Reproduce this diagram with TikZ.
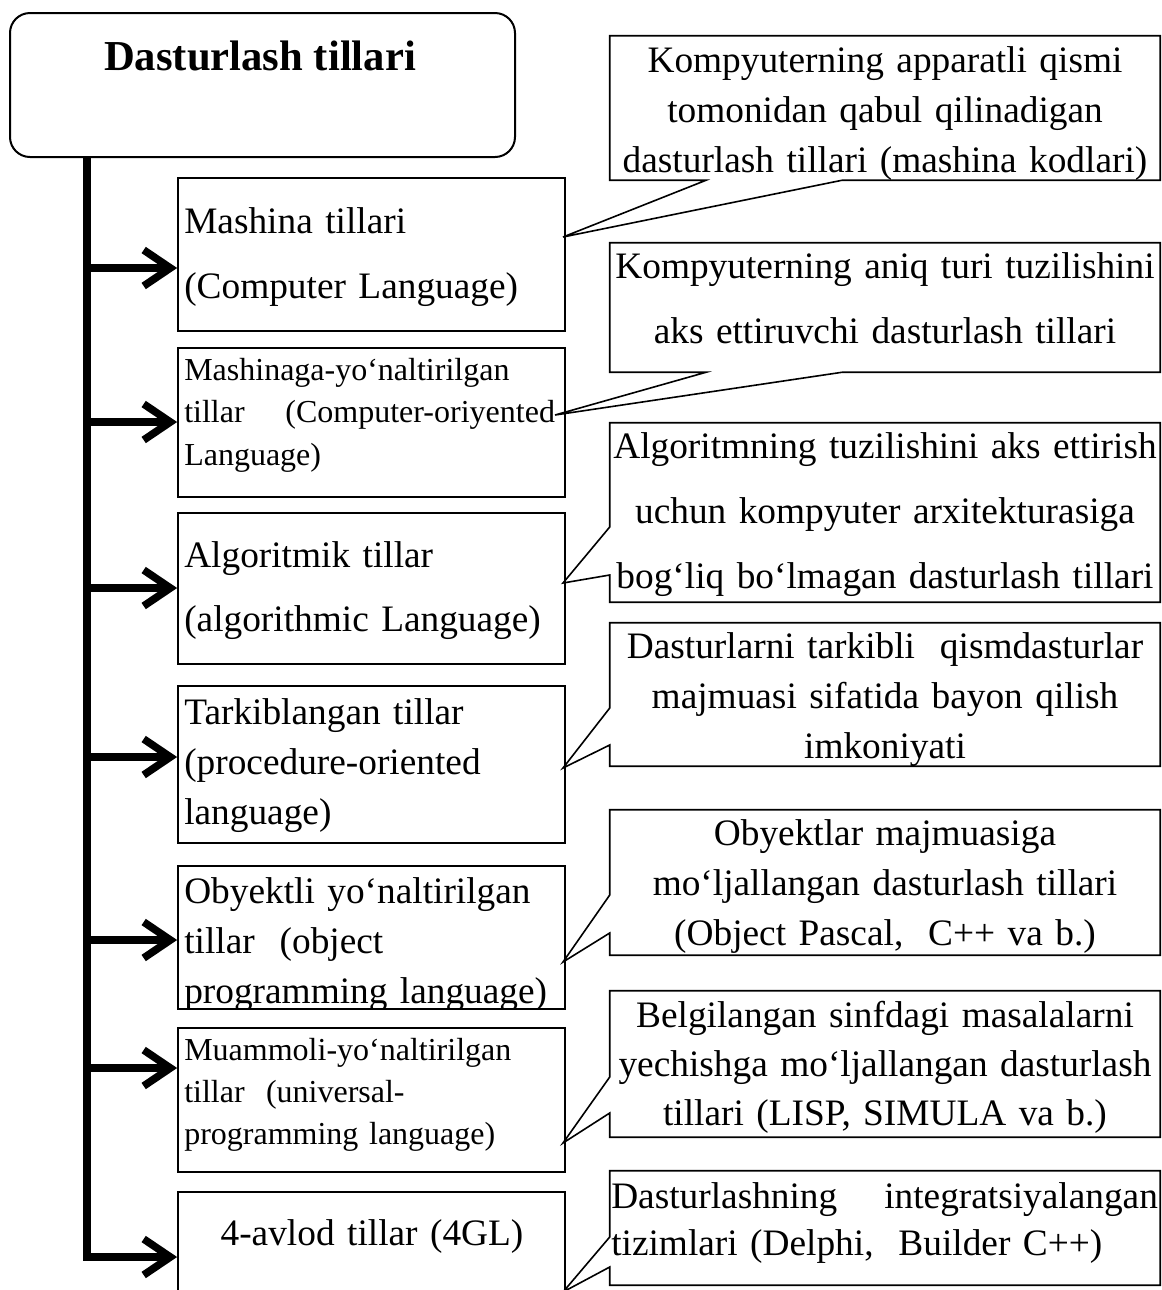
\documentclass[tikz,border=0pt]{standalone}
\usepackage{fontspec}
\setmainfont{Liberation Serif}
\usetikzlibrary{arrows.meta}

\begin{document}
\begin{tikzpicture}[x=0.75pt,y=-0.75pt,
  lbox/.style={draw,line width=1.3pt,minimum width=290.25pt,inner sep=0pt},
  cbox/.style={minimum width=412.5pt,inner sep=0pt},
  cline/.style={line width=1.2pt,line join=miter},
  ltext/.style={anchor=base west,inner sep=0pt,align=left,text width=285pt},
  ctext/.style={anchor=base,inner sep=0pt,align=center,text width=412.5pt},
  bigtext/.style={font=\fontsize{28}{#1}\selectfont},
  smalltext/.style={font=\fontsize{24}{#1}\selectfont},
  trunk/.style={line width=5.7pt},
  branch/.style={line width=5.7pt,-{Straight Barb[length=20pt,width=27pt]}}]
\clip (0,0) rectangle (1162,1290);

%Shape: Rounded Rect
\node[draw,line width=1.5pt,rounded corners=15pt,minimum width=378.75pt,minimum height=108pt] (title) at (262.5,85) {};
% Text Node
\node[anchor=base,inner sep=0pt,font=\fontsize{32}{38}\selectfont\bfseries] (titletext) at (260,70) {Dasturlash tillari};

%Shape: Rectangle
\node[lbox,minimum height=114.75pt] (b1) at (371.5,254.5) {};
\node[lbox,minimum height=111.75pt] (b2) at (371.5,422.5) {};
\node[lbox,minimum height=113.25pt] (b3) at (371.5,588.5) {};
\node[lbox,minimum height=117.75pt] (b4) at (371.5,764.5) {};
\node[lbox,minimum height=107.25pt] (b5) at (371.5,937.5) {};
\node[lbox,minimum height=108pt] (b6) at (371.5,1100) {};
\node[lbox,minimum height=88.5pt] (b7) at (371.5,1251) {};

% Text Node
\node[ltext,bigtext=48.75] (b1t) at (184,233) {Mashina tillari\\(Computer Language)};
\node[ltext,smalltext=32,text width=278pt] (b2t) at (184,380) {Mashinaga-yo‘naltirilgan\\tillar\hfill(Computer-oriyented\\Language)};
\node[ltext,bigtext=48] (b3t) at (184,567) {Algoritmik tillar\\(algorithmic Language)};
\node[ltext,bigtext=37.5] (b4t) at (184,724) {Tarkiblangan tillar\\(procedure-oriented\\language)};
\begin{scope}
\clip (b5.north west) rectangle (b5.south east);
\node[ltext,bigtext=37.5] (b5t) at (184,903) {Obyektli yo‘naltirilgan\\tillar\ \ (object\\programming language)};
\end{scope}
\node[ltext,smalltext=31.5] (b6t) at (184,1060) {Muammoli-yo‘naltirilgan\\tillar\ \ (universal-\\programming language)};
\node[ctext,bigtext=37.5,text width=290pt] (b7t) at (372,1245) {4-avlod tillar (4GL)};

%Straight Lines
\coordinate (tend) at (87,1261);
\draw[trunk] (title.south -| tend) -- (tend);
\coordinate (a1) at (87,268);
\coordinate (a2) at (87,422);
\coordinate (a3) at (87,588);
\coordinate (a4) at (87,757);
\coordinate (a5) at (87,940);
\coordinate (a6) at (87,1068);
\coordinate (a7) at (87,1257);
\foreach \i in {1,...,7}
  \draw[branch] (a\i) -- (a\i -| b\i.west);

%Shape: Callout
\node[cbox,minimum height=108pt] (c1) at (885,108) {};
\node[cbox,minimum height=96.75pt] (c2) at (885,307.5) {};
\node[cbox,minimum height=134.25pt] (c3) at (885,512.5) {};
\node[cbox,minimum height=107.25pt] (c4) at (885,694.5) {};
\node[cbox,minimum height=108.75pt] (c5) at (885,882.5) {};
\node[cbox,minimum height=109.5pt] (c6) at (885,1064) {};
\node[cbox,minimum height=85.5pt] (c7) at (885,1228) {};
\coordinate (p1) at (563,237);
\coordinate (p2) at (555,415);
\coordinate (p3) at (563,583);
\coordinate (p4) at (563,768);
\coordinate (p5) at (563,962);
\coordinate (p6) at (563,1143);
\coordinate (p7) at (563,1292);
\draw[cline] (c1.north west) -- (c1.north east) -- (c1.south east) -- (842,0 |- c1.south) -- (p1) -- (706,0 |- c1.south) -- (c1.south west) -- cycle;
\draw[cline] (c2.north west) -- (c2.north east) -- (c2.south east) -- (842,0 |- c2.south) -- (p2) -- (706,0 |- c2.south) -- (c2.south west) -- cycle;
\draw[cline] (c3.north west) -- (c3.north east) -- (c3.south east) -- (c3.south west) -- (c3.west |- 0,575) -- (p3) -- (c3.west |- 0,527) -- cycle;
\draw[cline] (c4.north west) -- (c4.north east) -- (c4.south east) -- (c4.south west) -- (c4.west |- 0,745) -- (p4) -- (c4.west |- 0,708) -- cycle;
\draw[cline] (c5.north west) -- (c5.north east) -- (c5.south east) -- (c5.south west) -- (c5.west |- 0,933) -- (p5) -- (c5.west |- 0,895) -- cycle;
\draw[cline] (c6.north west) -- (c6.north east) -- (c6.south east) -- (c6.south west) -- (c6.west |- 0,1113) -- (p6) -- (c6.west |- 0,1077) -- cycle;
\draw[cline] (c7.north west) -- (c7.north east) -- (c7.south east) -- (c7.south west) -- (c7.west |- 0,1267) -- (p7) -- (c7.west |- 0,1237) -- cycle;

% Text Node
\node[ctext,bigtext=37.5] (c1t) at (885,72) {Kompyuterning apparatli qismi\\tomonidan qabul qilinadigan\\dasturlash tillari (mashina kodlari)};
\node[ctext,bigtext=48.75] (c2t) at (885,278) {Kompyuterning aniq turi tuzilishini\\aks ettiruvchi dasturlash tillari};
\node[ctext,bigtext=48.75] (c3t) at (885,458) {Algoritmning tuzilishini aks ettirish\\uchun kompyuter arxitekturasiga\\bog‘liq bo‘lmagan dasturlash tillari};
\node[ctext,bigtext=37.5] (c4t) at (885,658) {Dasturlarni tarkibli\ \ qismdasturlar\\majmuasi sifatida bayon qilish\\imkoniyati};
\node[ctext,bigtext=37.5] (c5t) at (885,845) {Obyektlar majmuasiga\\mo‘ljallangan dasturlash tillari\\(Object Pascal,\ \ C++ va b.)};
\node[ctext,bigtext=37] (c6t) at (885,1027) {Belgilangan sinfdagi masalalarni\\yechishga mo‘ljallangan dasturlash\\tillari (LISP, SIMULA va b.)};
\node[ltext,bigtext=35.25,text width=410pt] (c7t) at (611,1208) {Dasturlashning\hfill integratsiyalangan\\tizimlari (Delphi,\ \ Builder C++)};

\end{tikzpicture}
\end{document}
